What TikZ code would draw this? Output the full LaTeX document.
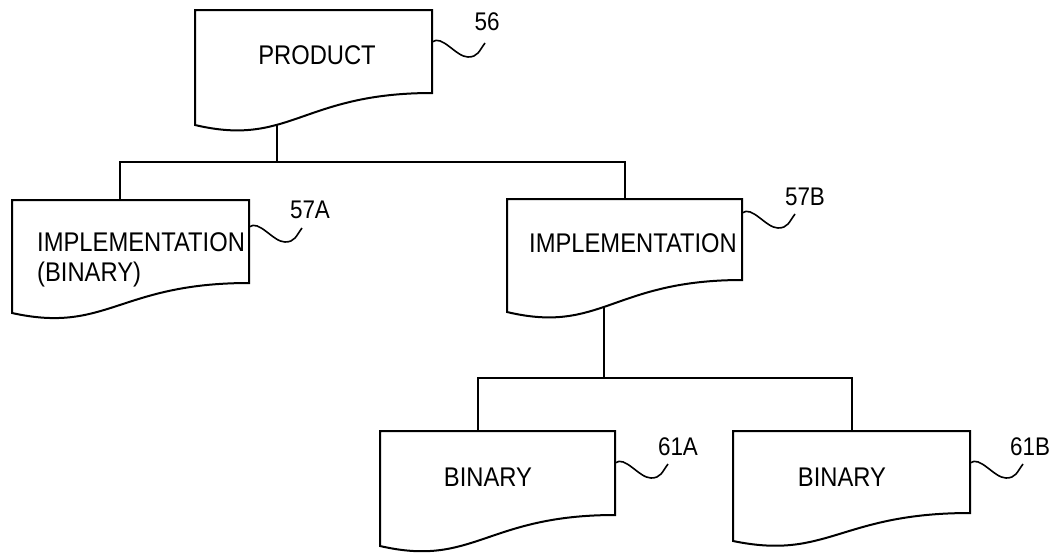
\documentclass[tikz,border=0pt]{standalone}
\usepackage{fontspec}
\setmainfont{Liberation Sans}
\newfontfamily\figfont[FakeStretch=0.88]{Liberation Sans}
\usetikzlibrary{calc}
\tikzset{
  boxn/.style={rectangle, inner sep=0pt, outer sep=0pt},
  boxline/.style={draw=black, line width=2pt, fill=white},
  conn/.style={draw=black, line width=2pt},
  squigline/.style={draw=black, line width=1.6pt},
  txt/.style={inner sep=0pt, font=\figfont\fontsize{27}{30}\selectfont},
  lab/.style={inner sep=0pt, font=\figfont\fontsize{25.5}{27}\selectfont}
}
\newcommand\docoutline[2]{%
  \draw[boxline] (#1.north west) -- (#1.north east) -- (#1.south east)
    .. controls ($(#1.south west)!0.45!(#1.south east)$)
    and ($(#1.south west)!0.4!(#1.south east)+(0,{1.7*#2})$)
    .. ($(#1.south west)+(0,#2)$) -- cycle;}
\newcommand\squig[2]{%
  \draw[squigline] ($(#1.north east)+(0,#2)$)
    .. controls +(10,-8) and +(-12,0) .. ++(36,15)
    .. controls +(10,0) and +(-6,8) .. ++(17,-14);}
\begin{document}
\begin{tikzpicture}[x=1pt,y=-1pt]
\useasboundingbox (0,0) rectangle (1060,552);
% box placeholders
\node[boxn, minimum width=237pt, minimum height=83pt] (P) at (313.5,51.5) {};
\node[boxn, minimum width=237pt, minimum height=83pt] (A) at (130.5,241.5) {};
\node[boxn, minimum width=235pt, minimum height=81pt] (B) at (624.5,239.5) {};
\node[boxn, minimum width=235pt, minimum height=84pt] (C) at (497.5,473) {};
\node[boxn, minimum width=237pt, minimum height=82pt] (D) at (851.5,472) {};
% junctions
\coordinate (j1) at (277,162);
\coordinate (j2) at (604,378);
% connectors
\draw[conn] (P.south -| j1) -- (j1);
\draw[conn] ([xshift=-10.5pt]A.north) |- (j1) -| (B.north);
\draw[conn] (B.south -| j2) -- (j2);
\draw[conn] ([xshift=-19.5pt]C.north) |- (j2) -| (D.north);
% document shapes
\docoutline{P}{32}
\docoutline{A}{30}
\docoutline{B}{32}
\docoutline{C}{31}
\docoutline{D}{28}
% texts
\node[txt] (tP) at (317,55) {PRODUCT};
\node[txt, anchor=west, align=left] (tA) at (37,260) {IMPLEMENTATION\\(BINARY)};
\node[txt] (tB) at (633,243) {IMPLEMENTATION};
\node[txt] (tC) at (488,477) {BINARY};
\node[txt] (tD) at (842,477) {BINARY};
% reference squiggles and labels
\squig{P}{32}
\squig{A}{27}
\squig{B}{14}
\squig{C}{32}
\squig{D}{32}
\node[lab] (l56) at (487,22) {56};
\node[lab] (l57A) at (310,210) {57A};
\node[lab] (l57B) at (805,197) {57B};
\node[lab] (l61A) at (678,447) {61A};
\node[lab] (l61B) at (1030,447) {61B};
\end{tikzpicture}
\end{document}
